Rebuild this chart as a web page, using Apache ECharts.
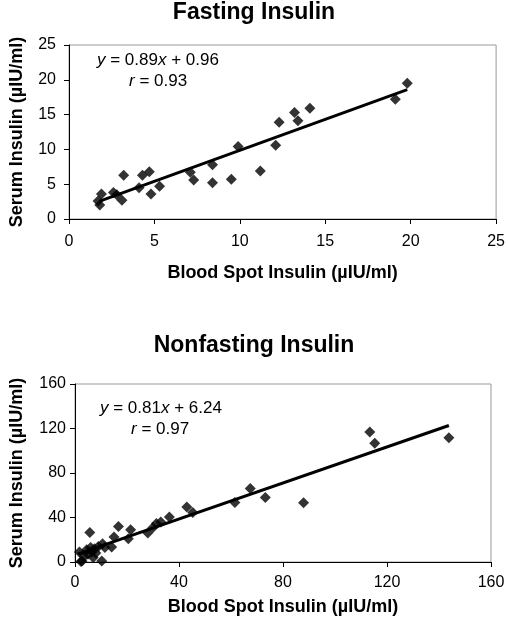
<!DOCTYPE html>
<html>
<head>
<meta charset="utf-8">
<script src="https://cdn.jsdelivr.net/npm/echarts@6/dist/echarts.min.js"></script>
<style>
html,body{margin:0;padding:0;background:#fff;}
#c{width:508px;height:620px;}
</style>
</head>
<body>
<div id="c"></div>
<script>
// ---- Data ----
const titles = ['Fasting Insulin', 'Nonfasting Insulin'];
const xName = 'Blood Spot Insulin (µIU/ml)';
const yName = 'Serum Insulin (µIU/ml)';

// Fasting: [blood spot, serum]
const fastingPoints = [
  [1.8, 2.0], [1.7, 2.6], [1.9, 3.6], [2.6, 3.8], [2.8, 3.5], [3.1, 2.7],
  [3.2, 6.3], [4.1, 4.5], [4.3, 6.3], [4.7, 6.8], [4.8, 3.6], [5.3, 4.7],
  [7.1, 6.7], [7.3, 5.6], [8.4, 7.8], [8.4, 5.2], [9.5, 5.7], [9.9, 10.4],
  [11.2, 6.9], [12.1, 10.6], [12.3, 13.9], [13.2, 15.3], [13.4, 14.1],
  [14.1, 15.9], [19.1, 17.2], [19.8, 19.5]
];
const fastingSlope = 0.89, fastingIntercept = 0.96, fastingR = 0.93;
const fastingLineX = [1.8, 19.8];
const fastingTicks = { min: 0, max: 25, interval: 5 };

// Nonfasting: [blood spot, serum]
const nonfastingPoints = [
  [1.7, 9], [2.3, 0.5], [2.7, 1], [3.5, 5], [4.5, 11], [5.7, 26.5], [5, 7],
  [6, 13], [6.5, 9], [7, 4], [7.5, 12], [8, 8], [9, 14], [10.3, 1], [10.6, 16.5],
  [11.5, 13], [14.1, 13.5], [15, 22.5], [16.7, 32], [20.5, 21], [21.4, 29],
  [28, 26], [30, 31], [31.3, 34.6], [33, 36], [36.3, 40.5], [43, 49.5],
  [45.3, 44.5], [61.5, 53.5], [67.4, 66], [73.2, 58], [87.9, 53.2],
  [113.4, 116.8], [115.3, 106.7], [143.8, 111.7]
];
const nonfastingSlope = 0.81, nonfastingIntercept = 6.24, nonfastingR = 0.97;
const nonfastingLineX = [1, 143.8];
const nonfastingTicks = { min: 0, max: 160, interval: 40 };

// ---- Chart ----
const FONT = '"Liberation Sans", Arial, Helvetica, sans-serif';
const chart = echarts.init(document.getElementById('c'), null, { renderer: 'canvas' });

function lineData(xs, m, b) { return xs.map(x => [x, +(m * x + b).toFixed(3)]); }

function xAxis(gi, t, gap, margin) {
  return {
    type: 'value', gridIndex: gi, min: t.min, max: t.max, interval: t.interval,
    name: xName, nameLocation: 'middle', nameGap: gap,
    nameTextStyle: { fontFamily: FONT, fontWeight: 'bold', fontSize: 18, color: '#000' },
    axisLine: { onZero: false, lineStyle: { color: '#000', width: 1 } },
    axisTick: { length: 5, lineStyle: { color: '#000' } },
    axisLabel: { fontFamily: FONT, fontSize: 16, color: '#000', margin: margin },
    splitLine: { show: false }
  };
}
function yAxis(gi, t, gap, margin) {
  return {
    type: 'value', gridIndex: gi, min: t.min, max: t.max, interval: t.interval,
    name: yName, nameLocation: 'middle', nameGap: gap,
    nameTextStyle: { fontFamily: FONT, fontWeight: 'bold', fontSize: 18, color: '#000' },
    axisLine: { show: true, onZero: false, lineStyle: { color: '#000', width: 1 } },
    axisTick: { show: true, length: 5, lineStyle: { color: '#000' } },
    axisLabel: { fontFamily: FONT, fontSize: 16, color: '#000', margin: margin },
    splitLine: { show: false }
  };
}
function eqText(m, b) {
  return '{i|y} = ' + m.toFixed(2) + '{i|x} + ' + b.toFixed(2);
}
const rich = {
  i: { fontStyle: 'italic', fontFamily: FONT, fontSize: 17, fill: '#000' }
};

chart.setOption({
  animation: false,
  backgroundColor: '#fff',
  title: [
    { text: titles[0], left: 'center', top: 1, padding: 0,
      textStyle: { fontFamily: FONT, fontWeight: 'bold', fontSize: 23, color: '#000' } },
    { text: titles[1], left: 'center', top: 334, padding: 0,
      textStyle: { fontFamily: FONT, fontWeight: 'bold', fontSize: 23, color: '#000' } }
  ],
  grid: [
    { left: 66, right: 11, top: 45, height: 174, show: true, borderColor: '#999', borderWidth: 1, backgroundColor: 'transparent' },
    { left: 72, right: 17, top: 384, height: 178, show: true, borderColor: '#999', borderWidth: 1, backgroundColor: 'transparent' }
  ],
  xAxis: [xAxis(0, fastingTicks, 45, 15), xAxis(1, nonfastingTicks, 36, 13)],
  yAxis: [yAxis(0, fastingTicks, 43, 13), yAxis(1, nonfastingTicks, 49, 9)],
  series: [
    { type: 'scatter', xAxisIndex: 0, yAxisIndex: 0, data: fastingPoints,
      symbol: 'diamond', symbolSize: 11, itemStyle: { color: '#000' } },
    { type: 'line', xAxisIndex: 0, yAxisIndex: 0, data: lineData(fastingLineX, fastingSlope, fastingIntercept),
      symbol: 'none', lineStyle: { color: '#000', width: 3 }, z: 3 },
    { type: 'scatter', xAxisIndex: 1, yAxisIndex: 1, data: nonfastingPoints,
      symbol: 'diamond', symbolSize: 11, itemStyle: { color: '#000' } },
    { type: 'line', xAxisIndex: 1, yAxisIndex: 1, data: lineData(nonfastingLineX, nonfastingSlope, nonfastingIntercept),
      symbol: 'none', lineStyle: { color: '#000', width: 3 }, z: 3 }
  ],
  graphic: [
    { type: 'text', left: 97, top: 52, style: { text: eqText(fastingSlope, fastingIntercept), rich, font: '17px ' + FONT, fill: '#000' } },
    { type: 'text', left: 129, top: 73, style: { text: '{i|r} = ' + fastingR.toFixed(2), rich, font: '17px ' + FONT, fill: '#000' } },
    { type: 'text', left: 100, top: 400, style: { text: eqText(nonfastingSlope, nonfastingIntercept), rich, font: '17px ' + FONT, fill: '#000' } },
    { type: 'text', left: 131, top: 421, style: { text: '{i|r} = ' + nonfastingR.toFixed(2), rich, font: '17px ' + FONT, fill: '#000' } }
  ]
});
</script>
</body>
</html>
